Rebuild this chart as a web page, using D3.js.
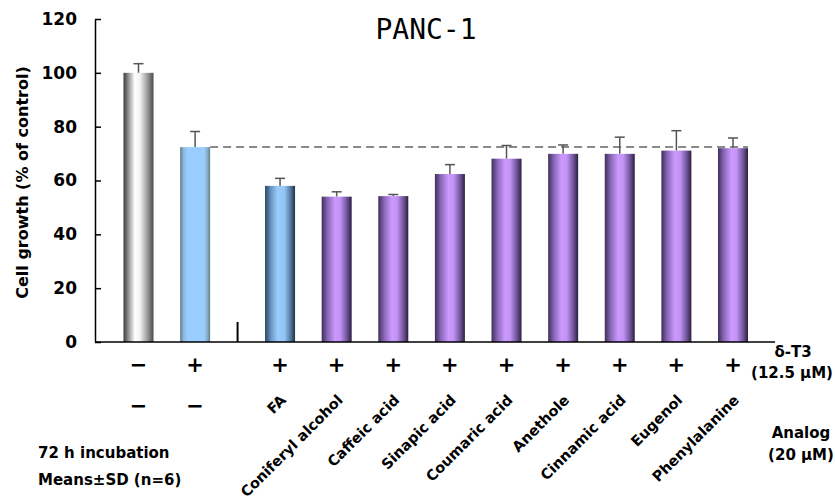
<!DOCTYPE html>
<html><head><meta charset="utf-8">
<script src="https://cdn.jsdelivr.net/npm/d3@7"></script>
<style>body{margin:0;background:#fff}svg{display:block}</style>
</head><body>
<svg id="c" width="835" height="502"></svg>
<script>
const analogs = ["", "", "FA", "Coniferyl alcohol", "Caffeic acid", "Sinapic acid", "Coumaric acid", "Anethole", "Cinnamic acid", "Eugenol", "Phenylalanine"];
const dT3 = ["\u2212", "+", "+", "+", "+", "+", "+", "+", "+", "+", "+"];
const analogMarks = ["\u2212", "\u2212"];
const means = [100, 72.4, 58, 54, 54.2, 62.4, 68.1, 69.9, 69.9, 71.1, 72];
const sds = [3.4, 5.8, 2.8, 1.8, 0.6, 3.5, 4.9, 3.3, 6.2, 7.4, 3.8];
const styles = ["grey", "lightblue", "blue", "purple", "purple", "purple", "purple", "purple", "purple", "purple", "purple"];
const yTicks = [0, 20, 40, 60, 80, 100, 120];
const refValue = 72.4;

const svg = d3.select("#c");
const font = "'DejaVu Sans', Verdana, sans-serif";

const defs = svg.append("defs");
const grads = {
  grey: [[0, "#3a3a3a"], [0.18, "#9a9a9a"], [0.38, "#ffffff"], [0.55, "#f2f2f2"], [0.8, "#9a9a9a"], [1, "#4a4a4a"]],
  lightblue: [[0, "#5f7d84"], [0.12, "#8fb9dc"], [0.25, "#99ccff"], [0.8, "#99ccff"], [0.92, "#84a9c4"], [1, "#5f7d84"]],
  blue: [[0, "#2a4462"], [0.2, "#6b96c4"], [0.42, "#99ccff"], [0.65, "#93c4f4"], [0.85, "#557aa0"], [1, "#1e3048"]],
  purple: [[0, "#3f2f5a"], [0.2, "#8a68b8"], [0.45, "#cc99ff"], [0.62, "#c293f5"], [0.85, "#6e5296"], [1, "#2b1f3e"]]
};
Object.entries(grads).forEach(([k, stops]) => {
  const g = defs.append("linearGradient").attr("id", "g-" + k).attr("x1", "0").attr("x2", "1").attr("y1", "0").attr("y2", "0");
  stops.forEach(s => g.append("stop").attr("offset", s[0]).attr("stop-color", s[1]));
});

const pos = i => i < 2 ? i : i + 0.5;
const x = d3.scaleLinear().domain([0, 10.5]).range([138.5, 733]);
const y = d3.scaleLinear().domain([0, 120]).range([342, 19]);
const bw = 30;
const axisX = 95, axisEnd = 775;

// dashed reference line
svg.append("line")
  .attr("x1", x(pos(1)) + bw / 2).attr("x2", x(pos(10)) + bw / 2)
  .attr("y1", y(refValue)).attr("y2", y(refValue))
  .attr("stroke", "#8a8a8a").attr("stroke-width", 2).attr("stroke-dasharray", "8,5");

// error bars
const eb = svg.append("g").attr("stroke", "#555").attr("stroke-width", 1.5);
means.forEach((m, i) => {
  const cx = x(pos(i));
  eb.append("line").attr("x1", cx).attr("x2", cx).attr("y1", y(m)).attr("y2", y(m + sds[i]));
  eb.append("line").attr("x1", cx - 5).attr("x2", cx + 5).attr("y1", y(m + sds[i])).attr("y2", y(m + sds[i]));
});

// bars
svg.append("g").selectAll("rect").data(means).join("rect")
  .attr("x", (d, i) => x(pos(i)) - bw / 2)
  .attr("width", bw)
  .attr("y", d => y(d))
  .attr("height", d => y(0) - y(d))
  .attr("fill", (d, i) => `url(#g-${styles[i]})`);

// y axis
const yAxis = d3.axisLeft(y).tickValues(yTicks).tickSizeInner(-6).tickSizeOuter(0).tickPadding(18);
const ga = svg.append("g").attr("transform", `translate(${axisX},0)`).call(yAxis);
ga.select(".domain").attr("stroke", "#000").attr("stroke-width", 1.5);
ga.selectAll(".tick line").attr("stroke", "#000").attr("stroke-width", 1.5);
ga.selectAll(".tick text").attr("font-family", font).attr("font-weight", "bold").attr("font-size", 17).attr("fill", "#000");

// x axis
svg.append("line").attr("x1", axisX).attr("x2", axisEnd).attr("y1", y(0)).attr("y2", y(0))
  .attr("stroke", "#000").attr("stroke-width", 1.5);
svg.append("line").attr("x1", x(1.75)).attr("x2", x(1.75)).attr("y1", y(0)).attr("y2", y(0) - 20)
  .attr("stroke", "#000").attr("stroke-width", 2);

// y title
svg.append("text").attr("transform", `translate(28,${(y(0) + y(120)) / 2 + 2}) rotate(-90)`)
  .attr("text-anchor", "middle").attr("font-family", font).attr("font-weight", "bold").attr("font-size", 16)
  .text("Cell growth (% of control)");

// title
svg.append("text").attr("x", 426).attr("y", 39).attr("text-anchor", "middle")
  .attr("font-family", "'DejaVu Sans Mono', monospace").attr("font-size", 28).text("PANC-1");

// row 1: delta-T3 signs
svg.append("g").selectAll("text").data(dT3).join("text")
  .attr("x", (d, i) => x(pos(i))).attr("y", 372).attr("text-anchor", "middle")
  .attr("font-family", font).attr("font-weight", "bold").attr("font-size", 21).text(d => d);

// row 2: analog minus marks
svg.append("g").selectAll("text").data(analogMarks).join("text")
  .attr("x", (d, i) => x(pos(i))).attr("y", 413).attr("text-anchor", "middle")
  .attr("font-family", font).attr("font-weight", "bold").attr("font-size", 21).text(d => d);

// row 2: rotated analog names
svg.append("g").selectAll("text").data(analogs.map((d, i) => ({ d, i })).filter(o => o.d)).join("text")
  .attr("transform", o => `translate(${x(pos(o.i)) + 7},${401}) rotate(-45)`)
  .attr("text-anchor", "end").attr("font-family", font).attr("font-weight", "bold").attr("font-size", 14.5)
  .text(o => o.d);

// right labels
const rl = svg.append("g").attr("font-family", font).attr("font-weight", "bold").attr("font-size", 15).attr("text-anchor", "middle");
rl.append("text").attr("x", 793).attr("y", 357).text("\u03b4-T3");
rl.append("text").attr("x", 792).attr("y", 378).text("(12.5 \u03bcM)");
rl.append("text").attr("x", 801).attr("y", 438).text("Analog");
rl.append("text").attr("x", 801).attr("y", 460).text("(20 \u03bcM)");

// notes
const nt = svg.append("g").attr("font-family", font).attr("font-weight", "bold").attr("font-size", 15);
nt.append("text").attr("x", 38).attr("y", 458).text("72 h incubation");
nt.append("text").attr("x", 38).attr("y", 485).text("Means\u00b1SD (n=6)");
</script>
</body></html>
